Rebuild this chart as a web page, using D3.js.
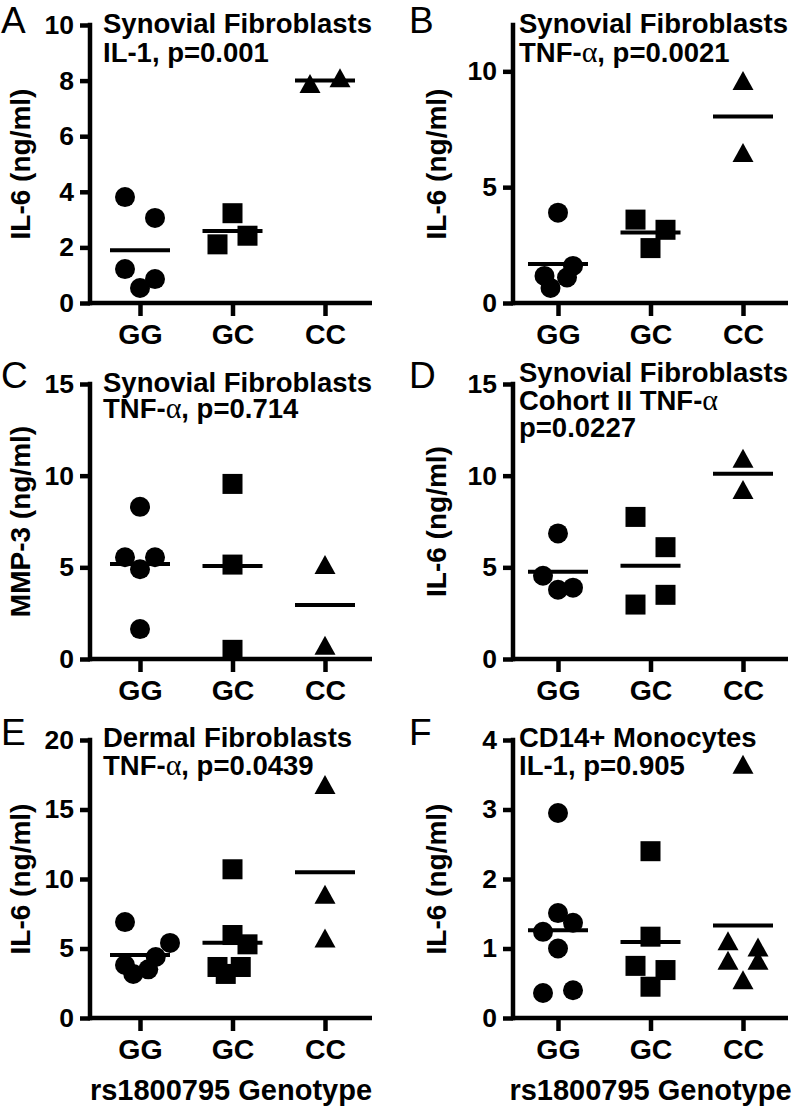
<!DOCTYPE html>
<html><head><meta charset="utf-8">
<script src="https://cdn.jsdelivr.net/npm/d3@7"></script>
<style>
body{margin:0;background:#fff;}
text{font-family:"Liberation Sans",Arial,Helvetica,sans-serif;fill:#000;}
</style></head>
<body>
<svg id="chart" width="793" height="1115"></svg>
<script>
// ---- data ----
const categories = ["GG", "GC", "CC"];

const aGG = [3.81, 3.06, 1.22, 0.86, 0.54];
const aGC = [3.23, 2.11, 2.42];
const aCC = [7.9, 8.1];

const bGG = [3.9, 1.6, 1.17, 1.1, 0.65];
const bGC = [3.6, 3.16, 2.37];
const bCC = [9.6, 6.5];

const cGG = [8.3, 5.55, 5.55, 4.9, 1.63];
const cGC = [9.55, 5.15, 0.5];
const cCC = [5.15, 0.75];

const dGG = [6.85, 4.54, 3.78, 3.89];
const dGC = [7.75, 6.1, 3.5, 2.97];
const dCC = [10.95, 9.25];

const eGG = [6.9, 5.4, 4.39, 3.81, 3.5, 3.17];
const eGC = [10.7, 5.97, 5.3, 3.67, 3.67, 3.17];
const eCC = [16.8, 8.9, 5.75];

const fGG = [2.95, 1.51, 1.37, 1.24, 1.0, 0.36, 0.4];
const fGC = [2.4, 1.17, 0.75, 0.69, 0.45];
const fCC = [3.65, 1.11, 1.02, 0.83, 0.83, 0.55];

// tick labels
const ticksA = [0, 2, 4, 6, 8, 10];
const ticksB = [0, 5, 10];
const ticksC = [0, 5, 10, 15];
const ticksD = [0, 5, 10, 15];
const ticksE = [0, 5, 10, 15, 20];
const ticksF = [0, 1, 2, 3, 4];

// horizontal scatter slots (column spread, as GraphPad draws overlapping points)
const spreadA = [[-1, 1, -1, 1, 0], [0, -1, 1], [-1, 1]];
const spreadB = [[0, 1, -0.9, 0.6, -0.5], [-1, 1, 0], [0, 0]];
const spreadC = [[0, -1, 1, 0, 0], [0, 0, 0], [0, 0]];
const spreadD = [[0, -1, 0, 1], [-1, 1, 1, -1], [0, 0]];
const spreadE = [[-1, 2, 1.05, -1, 0.55, -0.45], [0, 0, 1, -1, 0.55, -0.45], [0, 0, 0]];
const spreadF = [[0, 0, 1, -1, 0, -1, 1], [0, 0, -1, 1, 0], [0, -1, 1, -1, 1, 0]];

const yLabels = ["IL-6 (ng/ml)", "IL-6 (ng/ml)", "MMP-3 (ng/ml)", "IL-6 (ng/ml)", "IL-6 (ng/ml)", "IL-6 (ng/ml)"];
const panelLetters = ["A", "B", "C", "D", "E", "F"];
const titles = [
  ["Synovial Fibroblasts", "IL-1, p=0.001"],
  ["Synovial Fibroblasts", "TNF-\u03b1, p=0.0021"],
  ["Synovial Fibroblasts", "TNF-\u03b1, p=0.714"],
  ["Synovial Fibroblasts", "Cohort II TNF-\u03b1", "p=0.0227"],
  ["Dermal Fibroblasts", "TNF-\u03b1, p=0.0439"],
  ["CD14+ Monocytes", "IL-1, p=0.905"]
];
const yMax = [10, 12, 15, 15, 20, 4];
const xTitle = "rs1800795 Genotype";

// ---- layout ----
const cols = [
  {ax: 90, axEnd: 372, first: 50, last: 235, letterX: 1, labelX: 20, titleX: 103},
  {ax: 513, axEnd: 788, first: 45, last: 230, letterX: 409, labelX: 436, titleX: 519}
];
const rows = [
  {zero: 303, top: 25, letterY: 33},
  {zero: 659, top: 384, letterY: 388},
  {zero: 1018, top: 740, letterY: 745}
];
const titleYs = [[33, 62], [33, 62], [392, 418], [382, 410, 437], [747, 775], [747, 775]];

const panels = [
  {vals: [aGG, aGC, aCC], spread: spreadA, ticks: ticksA},
  {vals: [bGG, bGC, bCC], spread: spreadB, ticks: ticksB},
  {vals: [cGG, cGC, cCC], spread: spreadC, ticks: ticksC},
  {vals: [dGG, dGC, dCC], spread: spreadD, ticks: ticksD},
  {vals: [eGG, eGC, eCC], spread: spreadE, ticks: ticksE},
  {vals: [fGG, fGC, fCC], spread: spreadF, ticks: ticksF}
];

const svg = d3.select("#chart");
svg.append("rect").attr("width", 793).attr("height", 1115).attr("fill", "#fff");

const SW = 4.5;         // axis stroke
const SLOT = 15;        // px per spread slot
const R = 10;           // circle radius
const SQ = 20;          // square side
const TW = 21, TH = 19; // triangle

function triPath(cx, cy) {
  return `M${cx},${cy - TH / 2}L${cx + TW / 2},${cy + TH / 2}L${cx - TW / 2},${cy + TH / 2}Z`;
}

function addTitleLine(g, str, x, y) {
  const t = g.append("text").attr("x", x).attr("y", y)
    .attr("font-size", 27.5).attr("font-weight", "bold");
  const parts = str.split("\u03b1");
  parts.forEach((p, i) => {
    t.append("tspan").text(p);
    if (i < parts.length - 1) {
      t.append("tspan").text("\u03b1")
        .attr("font-family", "'Liberation Serif','DejaVu Serif',serif")
        .attr("font-weight", "normal").attr("font-size", 30);
    }
  });
}

panels.forEach((p, i) => {
  const col = cols[i % 2], row = rows[Math.floor(i / 2)];
  const g = svg.append("g");
  const y = d3.scaleLinear().domain([0, yMax[i]]).range([row.zero, row.top]);
  const x = d3.scalePoint().domain(categories).range([col.ax + col.first, col.ax + col.last]);

  // y axis
  const yAxis = d3.axisLeft(y).tickValues(p.ticks).tickFormat(d3.format("d"))
    .tickSize(10).tickSizeOuter(0).tickPadding(6);
  const ya = g.append("g").attr("transform", `translate(${col.ax},0)`).call(yAxis);
  ya.select(".domain").remove();
  ya.selectAll(".tick line").attr("stroke", "#000").attr("stroke-width", SW);
  ya.selectAll(".tick text").attr("font-size", 26.5).attr("font-weight", "bold")
    .attr("font-family", "'Liberation Sans',Arial,sans-serif").attr("fill", "#000");
  g.append("line").attr("x1", col.ax).attr("x2", col.ax)
    .attr("y1", row.top - SW / 2).attr("y2", row.zero + SW / 2)
    .attr("stroke", "#000").attr("stroke-width", SW);

  // x axis
  g.append("line").attr("x1", col.ax).attr("x2", col.axEnd)
    .attr("y1", row.zero).attr("y2", row.zero)
    .attr("stroke", "#000").attr("stroke-width", SW);
  const xAxis = d3.axisBottom(x).tickSize(13).tickSizeOuter(0).tickPadding(8);
  const xa = g.append("g").attr("transform", `translate(0,${row.zero})`).call(xAxis);
  xa.select(".domain").remove();
  xa.selectAll(".tick line").attr("stroke", "#000").attr("stroke-width", SW);
  xa.selectAll(".tick text").attr("font-size", 28.5).attr("font-weight", "bold")
    .attr("font-family", "'Liberation Sans',Arial,sans-serif").attr("fill", "#000");

  // y label
  const yMid = (row.zero + row.top) / 2;
  g.append("text").attr("transform", `translate(${col.labelX},${yMid}) rotate(-90)`)
    .attr("text-anchor", "middle").attr("dominant-baseline", "central")
    .attr("font-size", 28).attr("font-weight", "bold").text(yLabels[i]);

  // panel letter
  g.append("text").attr("x", col.letterX).attr("y", row.letterY)
    .attr("font-size", 37).text(panelLetters[i]);

  // title
  titles[i].forEach((ln, k) => addTitleLine(g, ln, col.titleX, titleYs[i][k]));

  // points
  p.vals.forEach((vals, ci) => {
    const cx = x(categories[ci]);
    vals.forEach((v, k) => {
      const px = cx + p.spread[ci][k] * SLOT, py = y(v);
      if (ci === 0) g.append("circle").attr("cx", px).attr("cy", py).attr("r", R);
      else if (ci === 1) g.append("rect").attr("x", px - SQ / 2).attr("y", py - SQ / 2).attr("width", SQ).attr("height", SQ);
      else g.append("path").attr("d", triPath(px, py));
    });
    const m = d3.mean(vals);
    g.append("line").attr("x1", cx - 30).attr("x2", cx + 30).attr("y1", y(m)).attr("y2", y(m))
      .attr("stroke", "#000").attr("stroke-width", 4);
  });

  if (i >= 4) {
    g.append("text").attr("x", (col.ax + col.axEnd) / 2).attr("y", 1100)
      .attr("text-anchor", "middle").attr("font-size", 29).attr("font-weight", "bold").text(xTitle);
  }
});
</script>
</body></html>
